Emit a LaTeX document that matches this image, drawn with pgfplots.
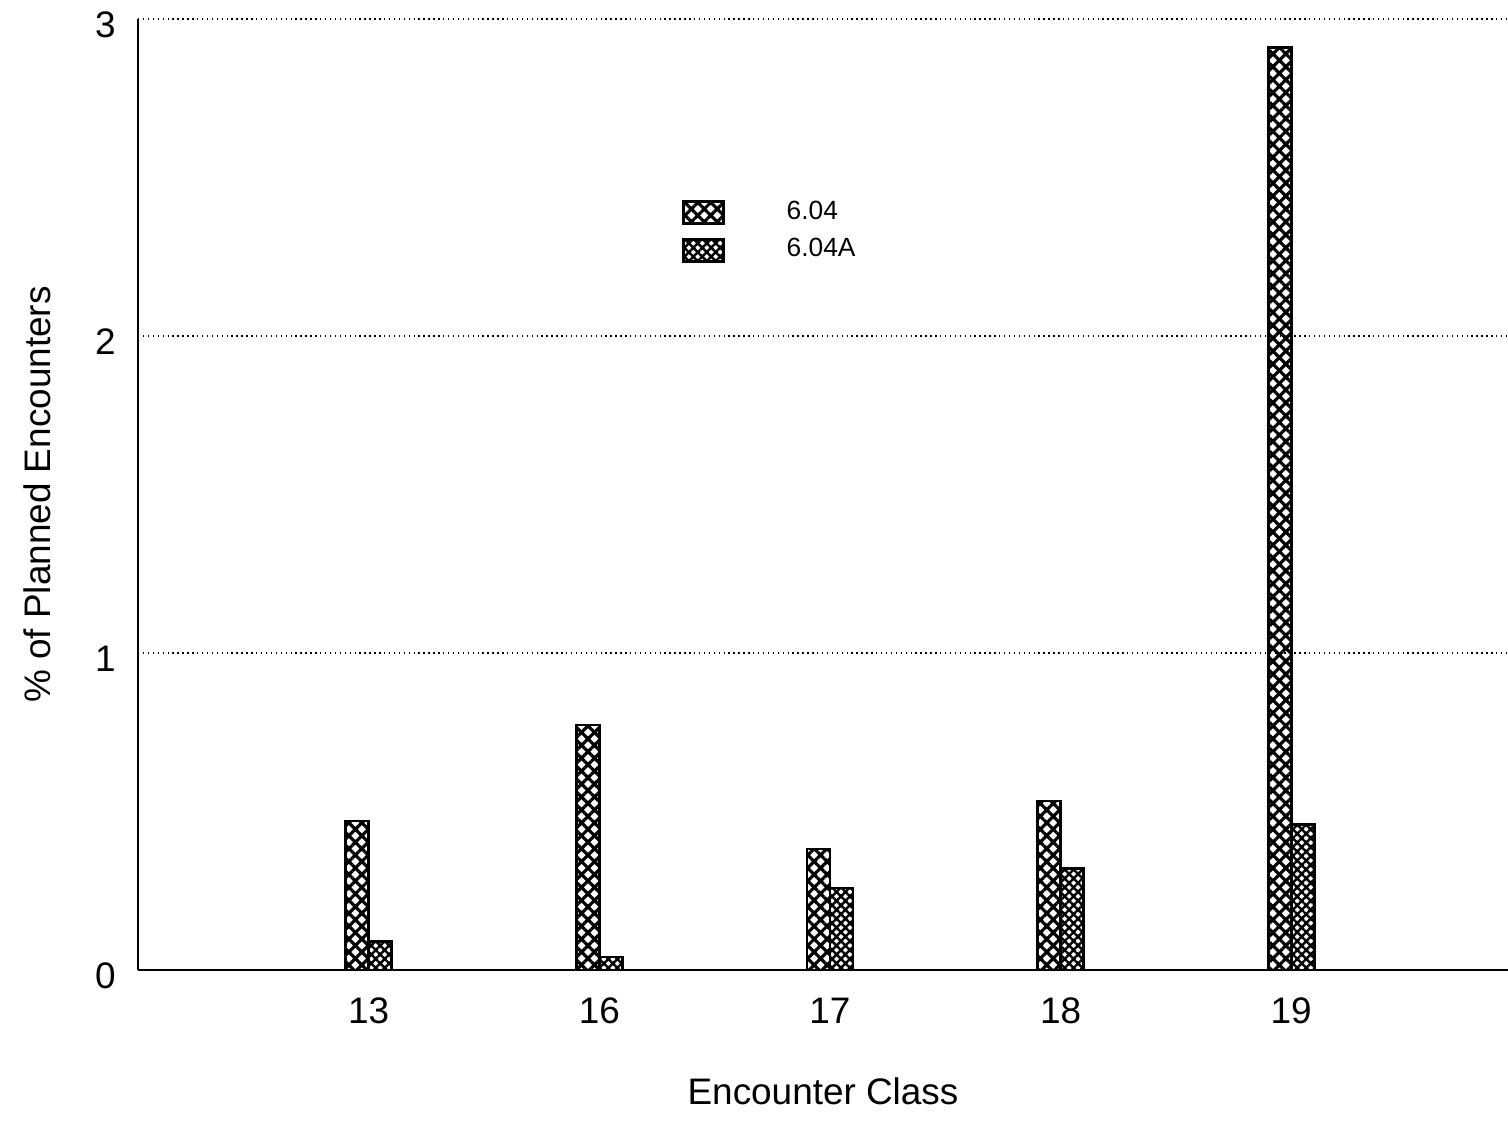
\documentclass[border=0pt]{standalone}
\usepackage{fontspec}
\setmainfont{Liberation Sans}
\usepackage{pgfplots}
\pgfplotsset{compat=1.18}
\usetikzlibrary{patterns.meta}

\begin{document}
\begin{tikzpicture}
\begin{axis}[
  at={(0,0)}, anchor=south west,
  scale only axis,
  width=137mm, height=95.1mm,
  xmin=-1, xmax=4.94, ymin=0, ymax=3,
  ytick={0,1,2,3},
  xtick={0,1,2,3,4},
  xticklabels={13,16,17,18,19},
  axis x line*=bottom, axis y line*=left,
  axis line style={line width=0.8pt},
  ymajorgrids, grid style={densely dotted, line width=0.5pt, black},
  major tick length=0pt,
  tick label style={font=\fontsize{10.5}{12}\selectfont},
  /pgf/number format/assume math mode=true,
  xticklabel style={yshift=-1.1mm, text height=1.6ex, text depth=0.2ex},
  yticklabel style={xshift=-1mm, yshift=-0.6mm},
  xlabel={Encounter Class},
  ylabel={\% of Planned Encounters},
  label style={font=\fontsize{10.5}{12}\selectfont},
  xlabel style={yshift=-2.7mm},
  ylabel style={yshift=2mm},
  ybar=0pt, bar width=2.3mm,
  legend style={at={(0.3964,0.817)}, anchor=north west, draw=none,
    inner sep=0pt, font=\fontsize{7.5}{9}\selectfont,
    row sep=0pt, column sep=5.5mm},
  legend cell align=left,
  legend image code/.code={\draw[#1] (0mm,-1.1mm) rectangle (4mm,1.1mm);},
]
\addplot[draw=black, line width=0.8pt,
  pattern={Hatch[angle=45,distance=2.6pt,line width=0.9pt]}]
  coordinates {(0,0.47) (1,0.773) (2,0.382) (3,0.533) (4,2.91)};
\addplot[draw=black, line width=0.8pt,
  pattern={Hatch[angle=45,distance=1.8pt,line width=0.7pt]}]
  coordinates {(0,0.091) (1,0.041) (2,0.259) (3,0.319) (4,0.46)};
\legend{6.04,6.04A}
\end{axis}
\pgfresetboundingbox
\useasboundingbox (-13.8mm,-15.0mm) rectangle (137mm,97.0mm);
\end{tikzpicture}
\end{document}
